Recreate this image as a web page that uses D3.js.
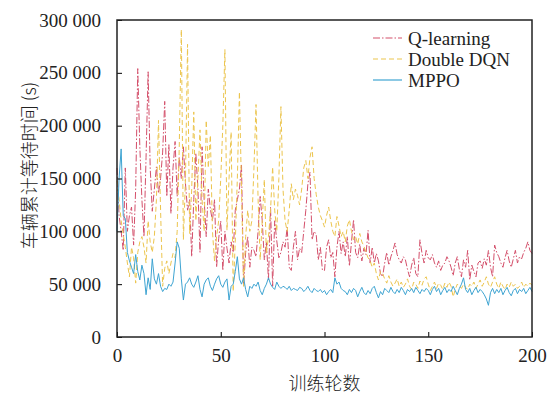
<!DOCTYPE html>
<html>
<head>
<meta charset="utf-8">
<script src="https://cdn.jsdelivr.net/npm/d3@7"></script>
<style>
  body { margin: 0; background: #fff; }
  svg text { fill: #222; }
</style>
</head>
<body>
<div id="chart"></div>
<script>
(function(){
    "use strict";

    // episode values, in thousands of seconds (episodes 0..200)
    var qLearning = [
        160,115,100,82,160,100,115,123,87,140,
        254,180,130,95,170,251,160,119,140,161,
        136,150,175,223,133,182,117,160,185,133,
        170,150,180,145,120,130,76,130,174,140,
        80,180,130,95,140,121,110,130,66,93,
        110,63,100,84,70,90,80,120,130,140,
        163,48,80,95,66,85,82,76,100,133,
        110,73,90,54,123,48,110,91,75,80,
        90,85,104,66,63,85,100,73,84,80,
        100,120,145,156,92,100,97,73,85,63,
        63,85,92,75,80,57,85,100,79,90,
        76,95,67,90,111,80,75,88,72,84,
        78,101,70,85,70,79,72,60,57,70,
        80,68,76,82,89,78,73,70,76,73,
        64,57,68,75,60,57,92,79,70,82,
        75,73,78,70,66,72,63,68,70,76,
        72,66,58,70,76,64,57,73,66,82,
        54,68,62,57,70,72,65,74,68,82,
        66,57,87,80,76,70,66,75,82,72,
        66,74,82,70,76,74,80,84,90,82,
        79
    ];
    var doubleDqn = [
        148,130,110,97,85,70,57,85,75,51,
        80,90,95,85,70,110,90,80,95,130,
        205,120,48,65,72,60,70,79,75,100,
        180,291,92,150,277,98,140,213,110,150,
        196,130,100,205,160,191,100,72,95,110,
        150,200,272,101,150,194,43,90,150,232,
        140,48,95,120,100,110,160,220,130,73,
        110,149,79,95,120,161,120,100,150,218,
        140,110,100,120,145,130,140,134,125,140,
        160,167,150,170,180,150,135,123,115,110,
        104,115,123,110,100,95,114,105,95,100,
        90,105,111,100,92,95,88,98,90,86,
        80,75,72,66,70,60,54,62,60,55,
        51,58,52,48,51,55,48,52,47,50,
        55,48,45,52,50,46,53,49,55,57,
        50,44,48,52,46,51,49,45,51,47,
        52,48,38,45,50,48,46,50,47,45,
        50,48,52,46,50,54,48,52,57,50,
        47,52,57,50,46,52,48,45,50,47,
        52,48,50,46,48,52,47,50,48,51,
        49
    ];
    var mppo = [
        100,150,178,115,112,80,72,66,60,78,
        62,54,68,60,40,56,45,74,55,50,
        60,48,43,46,45,50,48,52,70,90,
        84,55,35,50,52,56,50,47,52,58,
        45,38,50,54,56,48,44,50,55,58,
        50,47,52,55,35,48,50,62,76,55,
        50,56,45,38,48,46,50,48,52,44,
        40,46,50,56,50,47,45,52,48,46,
        48,47,45,48,44,46,45,44,47,46,
        43,45,48,44,42,46,44,43,45,42,
        44,40,43,45,42,56,50,52,46,44,
        43,40,45,42,46,44,38,43,47,42,
        40,44,41,46,48,42,37,43,40,46,
        44,42,47,43,41,45,42,47,44,40,
        45,43,46,42,47,44,41,45,43,46,
        44,40,45,48,43,46,40,44,47,42,
        45,43,48,44,40,46,50,56,45,42,
        46,40,44,47,42,45,43,40,36,30,
        42,46,41,45,42,46,40,44,47,42,
        39,44,46,41,45,43,46,41,44,47,
        43
    ];

    var seriesNames = ["Q-learning", "Double DQN", "MPPO"];
    var seriesData = [qLearning, doubleDqn, mppo];
    var seriesColors = ["#d4506b", "#ecc54e", "#3ea4d2"];
    var seriesDash = ["7,2,1.5,2", "5,3", null];

    var xTicks = [0, 50, 100, 150, 200];
    var yTicks = [0, 50, 100, 150, 200, 250, 300];

    var margin = {top: 20, right: 15, bottom: 64, left: 117},
        width = 547 - margin.left - margin.right,
        height = 401 - margin.top - margin.bottom;

    var x = d3.scaleLinear().domain([0, 200]).range([0, width]);
    var y = d3.scaleLinear().domain([0, 300]).range([height, 0]);

    var svg = d3.select("#chart").append("svg")
        .attr("width", 547)
        .attr("height", 401)
        .append("g")
        .attr("transform", "translate(" + margin.left + "," + margin.top + ")");

    var serif = "'Liberation Serif', 'Times New Roman', serif";

    // lines
    var line = d3.line()
        .x(function(d, i) { return x(i); })
        .y(function(d) { return y(d); });

    seriesData.forEach(function(data, k) {
        svg.append("path")
            .datum(data)
            .attr("fill", "none")
            .attr("stroke", seriesColors[k])
            .attr("stroke-width", 1)
            .attr("stroke-dasharray", seriesDash[k])
            .attr("d", line);
    });

    // y axis, ticks inward
    var yAxis = svg.append("g")
        .call(d3.axisLeft(y).tickValues(yTicks).tickSize(-5).tickPadding(16)
            .tickFormat(function(d) { return d === 0 ? "0" : d + " 000"; }));
    yAxis.select(".domain").remove();
    yAxis.selectAll("text").style("font-family", serif).style("font-size", "19px").attr("fill", "#222");

    // x axis, ticks inward
    var xAxis = svg.append("g")
        .attr("transform", "translate(0," + height + ")")
        .call(d3.axisBottom(x).tickValues(xTicks).tickSize(-5).tickPadding(12));
    xAxis.select(".domain").remove();
    xAxis.selectAll("text").style("font-family", serif).style("font-size", "19px").attr("fill", "#222");

    // frame
    svg.append("rect")
        .attr("width", width)
        .attr("height", height)
        .attr("fill", "none")
        .attr("stroke", "#222")
        .attr("stroke-width", 1.5);

    // axis titles
    svg.append("text")
        .attr("transform", "translate(" + (-89) + "," + (height / 2 - 13) + ") rotate(-90)")
        .attr("text-anchor", "middle")
        .attr("dominant-baseline", "central")
        .style("font-family", "'Noto Sans CJK SC', sans-serif")
        .style("font-size", "18px")
        .style("font-weight", 300)
        .text("车辆累计等待时间 (s)");

    svg.append("text")
        .attr("x", width / 2)
        .attr("y", height + 53)
        .attr("text-anchor", "middle")
        .style("font-family", "'Noto Sans CJK SC', sans-serif")
        .style("font-size", "18px")
        .style("font-weight", 300)
        .text("训练轮数");

    // legend
    var legend = svg.append("g").attr("transform", "translate(256,18)");
    seriesNames.forEach(function(name, k) {
        var row = legend.append("g").attr("transform", "translate(0," + (k * 21) + ")");
        row.append("line")
            .attr("x1", 0).attr("x2", 29)
            .attr("stroke", seriesColors[k])
            .attr("stroke-width", 1.2)
            .attr("stroke-dasharray", seriesDash[k]);
        row.append("text")
            .attr("x", 35)
            .attr("dy", "0.35em")
            .style("font-family", serif)
            .style("font-size", "19px")
            .text(name);
    });
})();
</script>
</body>
</html>
